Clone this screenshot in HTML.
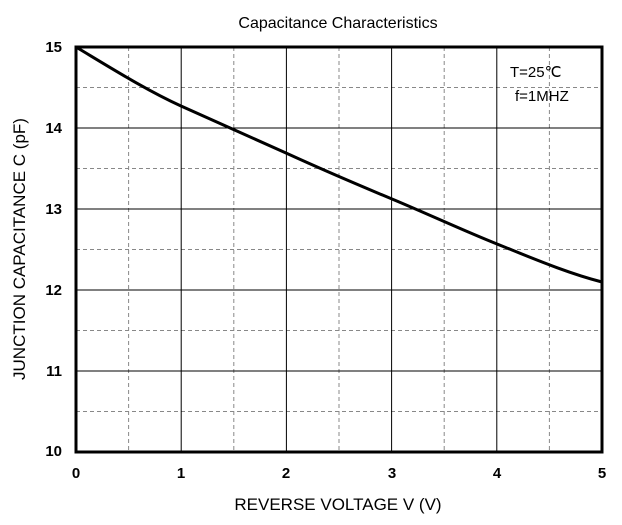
<!DOCTYPE html>
<html><head><style>body{margin:0;background:#fff}</style></head><body>
<svg width="622" height="520" xmlns="http://www.w3.org/2000/svg" font-family="Liberation Sans, Arial, sans-serif">
<rect width="622" height="520" fill="#fff"/>
<g stroke="#888" stroke-width="1" stroke-dasharray="4,3">
<line x1="128.6" y1="47" x2="128.6" y2="452"/><line x1="233.8" y1="47" x2="233.8" y2="452"/><line x1="339" y1="47" x2="339" y2="452"/><line x1="444.2" y1="47" x2="444.2" y2="452"/><line x1="549.4" y1="47" x2="549.4" y2="452"/>
<line x1="76" y1="87.5" x2="602" y2="87.5"/><line x1="76" y1="168.5" x2="602" y2="168.5"/><line x1="76" y1="249.5" x2="602" y2="249.5"/><line x1="76" y1="330.5" x2="602" y2="330.5"/><line x1="76" y1="411.5" x2="602" y2="411.5"/>
</g>
<g stroke="#000" stroke-width="1">
<line x1="181.2" y1="47" x2="181.2" y2="452"/><line x1="286.4" y1="47" x2="286.4" y2="452"/><line x1="391.6" y1="47" x2="391.6" y2="452"/><line x1="496.8" y1="47" x2="496.8" y2="452"/>
<line x1="76" y1="128" x2="602" y2="128"/><line x1="76" y1="209" x2="602" y2="209"/><line x1="76" y1="290" x2="602" y2="290"/><line x1="76" y1="371" x2="602" y2="371"/>
</g>
<rect x="76" y="47" width="526" height="405" fill="none" stroke="#000" stroke-width="3"/>
<path d="M76,47 C111,68 146,90 181,106 S251,137 286,153 S356,184 392,199 S462,230 497,244 S567,273 602,282" fill="none" stroke="#000" stroke-width="3"/>
<text x="338" y="28" font-size="16" text-anchor="middle">Capacitance Characteristics</text>
<g font-size="15" font-weight="bold" text-anchor="end">
<text x="62" y="52">15</text><text x="62" y="133">14</text><text x="62" y="214">13</text><text x="62" y="295">12</text><text x="62" y="376">11</text><text x="62" y="456">10</text>
</g>
<g font-size="15" font-weight="bold" text-anchor="middle">
<text x="76" y="478">0</text><text x="181" y="478">1</text><text x="286" y="478">2</text><text x="392" y="478">3</text><text x="497" y="478">4</text><text x="602" y="478">5</text>
</g>
<text x="338" y="510" font-size="17" text-anchor="middle">REVERSE VOLTAGE V (V)</text>
<text transform="translate(25,249) rotate(-90)" font-size="17" text-anchor="middle">JUNCTION CAPACITANCE C (pF)</text>
<text x="510" y="77" font-size="15">T=25℃</text>
<text x="515" y="101" font-size="15">f=1MHZ</text>
</svg>
</body></html>
